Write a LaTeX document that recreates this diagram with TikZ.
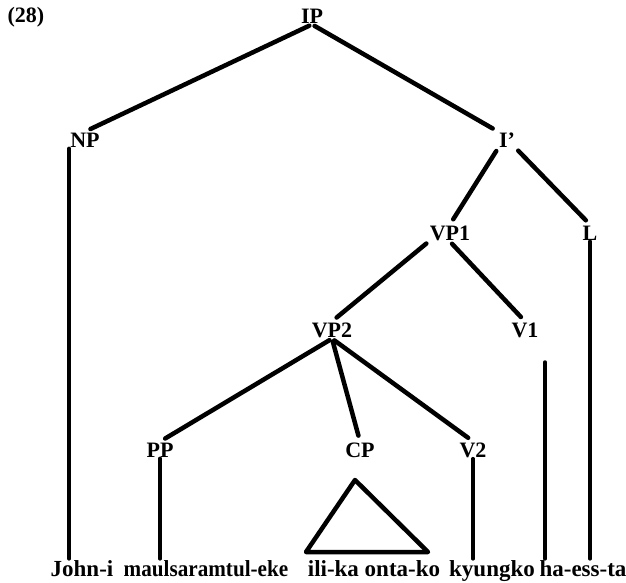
\documentclass[tikz,border=0pt]{standalone}
\usepackage{fontspec}
\setmainfont{Liberation Serif}
\usetikzlibrary{calc}

\begin{document}
\begin{tikzpicture}[x=1pt, y=-1pt, line cap=round, line join=round,
        cat/.style={inner sep=1pt, font=\fontsize{22}{22}\selectfont\bfseries},
        word/.style={inner sep=1pt, anchor=base, font=\fontsize{23}{23}\selectfont\bfseries},
        branch/.style={line width=4.5pt, shorten <=3pt, shorten >=6pt},
        stem/.style={line width=3.5pt}]
    \useasboundingbox (0,0) rectangle (626,583);

    % category labels
    \node[cat] (num) at (26,17) {(28)};
    \node[cat] (IP) at (312,16) {IP};
    \node[cat] (NP) at (85,140) {NP};
    \node[cat] (Ibar) at (507,140) {I'};
    \node[cat] (VP1) at (450,233) {VP1};
    \node[cat] (L) at (590,233) {L};
    \node[cat] (VP2) at (332,330) {VP2};
    \node[cat] (V1) at (525,330) {V1};
    \node[cat] (PP) at (160,450) {PP};
    \node[cat] (CP) at (360,450) {CP};
    \node[cat] (V2) at (473,450) {V2};

    % words
    \node[word] (john) at (82,576) {John-i};
    \node[word] (maul) at (206,576) {\scalebox{0.92}[1]{maulsaramtul-eke}};
    \node[word] (ilika) at (374,576) {ili-ka onta-ko};
    \node[word] (kyung) at (492,576) {kyungko};
    \node[word] (hass) at (583,576) {ha-ess-ta};

    \coordinate (v1top) at (545,362);
    \coordinate (cptop) at (355,480);
    \coordinate (cpleft) at (306,552);
    \coordinate (cpright) at (428,552);

    % branches
    \draw[branch] (IP.south) -- (NP.north);
    \draw[branch] (IP.south) -- (Ibar.north west);
    \draw[branch] (Ibar.south west) -- (VP1.north);
    \draw[branch] (Ibar.south east) -- (L.north);
    \draw[branch] (VP1.south west) -- (VP2.north);
    \draw[branch] (VP1.south) -- (V1.north);
    \draw[branch] (VP2.south) -- (PP.north);
    \draw[branch] (VP2.south) -- (CP.north);
    \draw[branch] (VP2.south) -- (V2.north);

    % stems down to the words
    \draw[stem] (NP.south west) -- (NP.south west |- john.north);
    \draw[stem] (PP.south) -- (PP.south |- maul.north);
    \draw[stem] (V2.south) -- (V2.south |- kyung.north);
    \draw[stem] (v1top) -- (v1top |- hass.north);
    \draw[stem] (L.south) -- (L.south |- hass.north);
    \draw[line width=4.5pt] (cptop) -- (cpleft) -- (cpright) -- cycle;
\end{tikzpicture}
\end{document}
